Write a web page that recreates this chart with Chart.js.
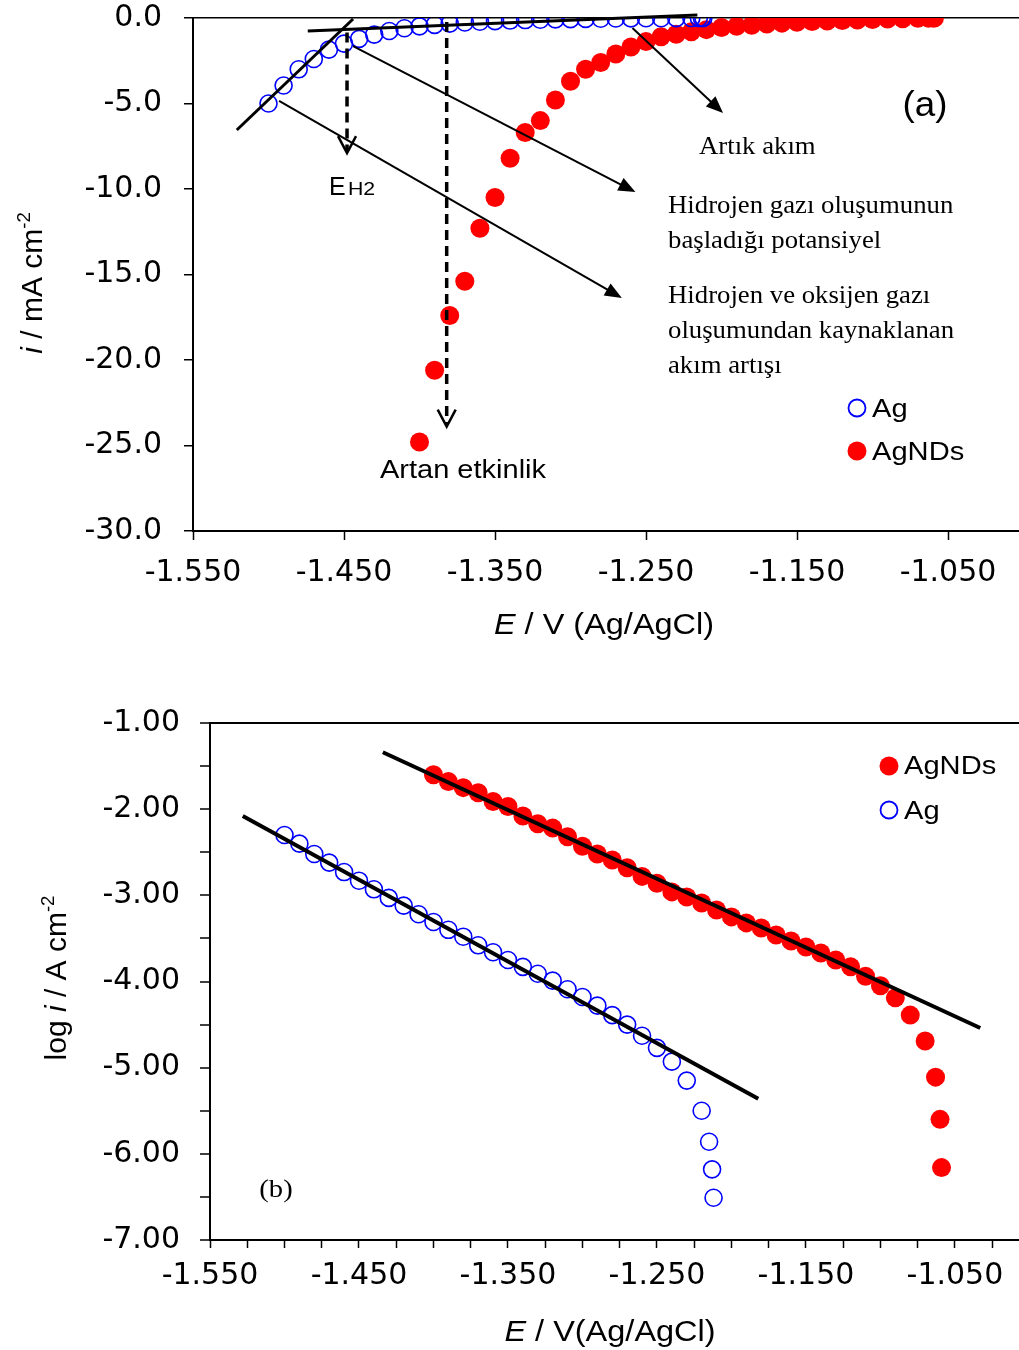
<!DOCTYPE html>
<html>
<head>
<meta charset="utf-8">
<script src="https://cdn.jsdelivr.net/npm/chart.js@4.4.1/dist/chart.umd.min.js"></script>
<style>
  html, body { margin: 0; padding: 0; background: #fff; overflow: hidden; }
  canvas { display: block; }
</style>
</head>
<body>
<canvas id="chartA" width="1019" height="650"></canvas>
<canvas id="chartB" width="1019" height="700"></canvas>
<script>
// potentials (V vs Ag/AgCl)
const E_AG = [-1.500, -1.490, -1.480, -1.470, -1.460, -1.450, -1.440, -1.430, -1.420, -1.410,
              -1.400, -1.390, -1.380, -1.370, -1.360, -1.350, -1.340, -1.330, -1.320, -1.310,
              -1.300, -1.290, -1.280, -1.270, -1.260, -1.250, -1.240, -1.230, -1.220, -1.215,
              -1.213, -1.212];
const E_AGNDS = [-1.400, -1.390, -1.380, -1.370, -1.360, -1.350, -1.340, -1.330, -1.320, -1.310,
                 -1.300, -1.290, -1.280, -1.270, -1.260, -1.250, -1.240, -1.230, -1.220, -1.210,
                 -1.200, -1.190, -1.180, -1.170, -1.160, -1.150, -1.140, -1.130, -1.120, -1.110,
                 -1.100, -1.090, -1.080, -1.070, -1.063, -1.060, -1.059];

// (a) current density, mA cm-2
const I_AG = [-5.0, -3.95, -3.0, -2.4, -1.85, -1.5, -1.22, -0.97, -0.76, -0.60,
              -0.49, -0.40, -0.33, -0.26, -0.22, -0.18, -0.15, -0.12, -0.10, -0.08,
              -0.066, -0.052, -0.041, -0.032, -0.023, -0.017, -0.012, -0.007, -0.003, -0.0014,
              -0.0007, -0.0003];
const I_AGNDS = [-24.8, -20.6, -17.4, -15.4, -12.3, -10.5, -8.2, -6.7, -6.0, -4.8,
                 -3.7, -3.0, -2.6, -2.1, -1.7, -1.38, -1.10, -0.95, -0.81, -0.68,
                 -0.56, -0.48, -0.42, -0.35, -0.30, -0.25, -0.21, -0.18, -0.15, -0.115,
                 -0.089, -0.065, -0.041, -0.020, -0.008, -0.0025, -0.0007];

// (b) log i, A cm-2
const LOGI_AG = [-2.30, -2.40, -2.52, -2.62, -2.73, -2.83, -2.93, -3.03, -3.12, -3.22,
                 -3.31, -3.40, -3.48, -3.58, -3.66, -3.75, -3.83, -3.91, -3.99, -4.09,
                 -4.18, -4.28, -4.39, -4.50, -4.63, -4.77, -4.93, -5.15, -5.50, -5.86,
                 -6.18, -6.51];
const LOGI_AGNDS = [-1.60, -1.68, -1.75, -1.81, -1.91, -1.97, -2.08, -2.17, -2.22, -2.32,
                    -2.43, -2.52, -2.59, -2.68, -2.78, -2.86, -2.96, -3.02, -3.09, -3.17,
                    -3.25, -3.32, -3.38, -3.46, -3.53, -3.60, -3.67, -3.75, -3.83, -3.94,
                    -4.05, -4.19, -4.39, -4.69, -5.11, -5.60, -6.16];

// tangent lines in (a), Tafel fits in (b)
const TAN1_E = [-1.521, -1.444], TAN1_I = [-6.55, -0.06];
const TAN2_E = [-1.474, -1.216], TAN2_I = [-0.76, 0.18];
const FIT_AG_E = [-1.528, -1.182], FIT_AG_LOG = [-2.08, -5.36];
const FIT_AGNDS_E = [-1.434, -1.033], FIT_AGNDS_LOG = [-1.34, -4.54];

// tick labels
const X_MAJOR = [-1.55, -1.45, -1.35, -1.25, -1.15, -1.05];
const Y_TICKS_A = [0, -5, -10, -15, -20, -25, -30];
const Y_MAJOR_B = [-1, -2, -3, -4, -5, -6, -7];

// annotation arrows in (a): [E1, i1, E2, i2]
const ARROWS_A = [
    [-1.444, -1.64, -1.257, -10.18],
    [-1.493, -4.85, -1.266, -16.37],
    [-1.259, -0.58, -1.199, -5.56]
];
// dashed arrows: [E, iStart, iEnd]
const DASHED_A = [
    [-1.448, -0.85, -7.9],
    [-1.382, -0.23, -23.9]
];

const BLUE = '#0000ff';
const RED = '#ff0000';
const SANS = '"Liberation Sans", Arial, sans-serif';
const SERIF = '"Liberation Serif", "Times New Roman", serif';

const pts = (xs, ys) => xs.map((x, i) => ({ x: x, y: ys[i] }));
const isMajor = (list, v) => list.some(m => Math.abs(m - v) < 1e-6);

// minor ticks for (b)
const xTicksB = [];
for (let k = 0; k <= 21; k++) xTicksB.push(-1.55 + k * 0.025);
const yTicksB = [];
for (let k = 0; k <= 12; k++) yTicksB.push(-7 + k * 0.5);

function text(ctx, s, x, y, font, align, sx) {
    ctx.save();
    ctx.font = font;
    ctx.textAlign = align || 'left';
    ctx.textBaseline = 'alphabetic';
    ctx.fillStyle = '#000';
    ctx.translate(x, y);
    ctx.scale(sx || 1, 1);
    ctx.fillText(s, 0, 0);
    ctx.restore();
}

// mixed italic / superscript titles
function rich(ctx, parts, cx, cy, size, sx, rotate) {
    ctx.save();
    ctx.fillStyle = '#000';
    ctx.textBaseline = 'alphabetic';
    ctx.textAlign = 'left';
    const fontOf = p => (p.it ? 'italic ' : '') + (p.sup ? size * 0.62 : size) + 'px ' + SANS;
    let total = 0;
    const widths = parts.map(p => { ctx.font = fontOf(p); const w = ctx.measureText(p.t).width * sx; total += w; return w; });
    ctx.translate(cx, cy);
    if (rotate) ctx.rotate(-Math.PI / 2);
    let cur = -total / 2;
    parts.forEach((p, i) => {
        ctx.save();
        ctx.font = fontOf(p);
        ctx.translate(cur, p.sup ? -size * 0.4 : 0);
        ctx.scale(sx, 1);
        ctx.fillText(p.t, 0, 0);
        ctx.restore();
        cur += widths[i];
    });
    ctx.restore();
}

function arrow(ctx, x1, y1, x2, y2) {
    const a = Math.atan2(y2 - y1, x2 - x1), len = 17, hw = 7;
    ctx.beginPath();
    ctx.moveTo(x1, y1);
    ctx.lineTo(x2 - Math.cos(a) * len * 0.8, y2 - Math.sin(a) * len * 0.8);
    ctx.lineWidth = 2;
    ctx.strokeStyle = '#000';
    ctx.stroke();
    ctx.beginPath();
    ctx.moveTo(x2, y2);
    ctx.lineTo(x2 - Math.cos(a) * len + Math.sin(a) * hw, y2 - Math.sin(a) * len - Math.cos(a) * hw);
    ctx.lineTo(x2 - Math.cos(a) * len - Math.sin(a) * hw, y2 - Math.sin(a) * len + Math.cos(a) * hw);
    ctx.closePath();
    ctx.fillStyle = '#000';
    ctx.fill();
}

function dashedArrow(ctx, x, y1, y2) {
    ctx.save();
    ctx.strokeStyle = '#000';
    ctx.lineWidth = 3.5;
    ctx.setLineDash([10, 6]);
    ctx.beginPath();
    ctx.moveTo(x, y1);
    ctx.lineTo(x, y2 - 2);
    ctx.stroke();
    ctx.setLineDash([]);
    ctx.lineWidth = 2.5;
    ctx.beginPath();
    ctx.moveTo(x - 9, y2 - 17);
    ctx.lineTo(x, y2);
    ctx.lineTo(x + 9, y2 - 17);
    ctx.stroke();
    ctx.restore();
}

function legendItem(ctx, x, y, filled, label, baseline) {
    ctx.save();
    ctx.beginPath();
    if (filled) {
        ctx.arc(x, y, 9.5, 0, Math.PI * 2);
        ctx.fillStyle = RED;
        ctx.fill();
    } else {
        ctx.arc(x, y, 8.5, 0, Math.PI * 2);
        ctx.strokeStyle = BLUE;
        ctx.lineWidth = 1.8;
        ctx.stroke();
    }
    ctx.restore();
    text(ctx, label, x + 15, baseline, '26px ' + SANS, 'left', 1.12);
}

const annotA = {
    id: 'annotA',
    afterDatasetsDraw(chart) {
        const ctx = chart.ctx, sx = chart.scales.x, sy = chart.scales.y;
        const px = v => sx.getPixelForValue(v), py = v => sy.getPixelForValue(v);
        ctx.save();
        ARROWS_A.forEach(a => arrow(ctx, px(a[0]), py(a[1]), px(a[2]), py(a[3])));
        DASHED_A.forEach(d => dashedArrow(ctx, px(d[0]), py(d[1]), py(d[2])));

        text(ctx, '(a)', 925, 116, '35px ' + SANS, 'center', 1.05);
        const tf = '25px ' + SERIF;
        text(ctx, 'Artık akım', 699, 154, tf, 'left', 1.07);
        text(ctx, 'Hidrojen gazı oluşumunun', 668, 213, tf, 'left', 1.07);
        text(ctx, 'başladığı potansiyel', 668, 248, tf, 'left', 1.07);
        text(ctx, 'Hidrojen ve oksijen gazı', 668, 303, tf, 'left', 1.07);
        text(ctx, 'oluşumundan kaynaklanan', 668, 338, tf, 'left', 1.07);
        text(ctx, 'akım artışı', 668, 373, tf, 'left', 1.07);
        text(ctx, 'E', 329, 195, '25px ' + SANS, 'left', 1.0);
        text(ctx, 'H2', 348, 195, '19px ' + SANS, 'left', 1.12);
        text(ctx, 'Artan etkinlik', 380, 478, '25px ' + SANS, 'left', 1.16);

        legendItem(ctx, 857, 408, false, 'Ag', 417);
        legendItem(ctx, 857, 451, true, 'AgNDs', 460);

        rich(ctx, [{ t: 'i', it: true }, { t: ' / mA cm' }, { t: '-2', sup: true }], 42, 283, 30, 1, true);
        rich(ctx, [{ t: 'E', it: true }, { t: ' / V (Ag/AgCl)' }], 604, 634, 29, 1.12, false);
        ctx.restore();
    }
};

const annotB = {
    id: 'annotB',
    afterDatasetsDraw(chart) {
        const ctx = chart.ctx;
        ctx.save();
        legendItem(ctx, 889, 116, true, 'AgNDs', 124);
        legendItem(ctx, 889, 160, false, 'Ag', 169);
        text(ctx, '(b)', 276, 547, '26px ' + SERIF, 'center', 1.1);
        rich(ctx, [{ t: 'log ' }, { t: 'i', it: true }, { t: ' / A cm' }, { t: '-2', sup: true }], 66, 328, 30, 1, true);
        rich(ctx, [{ t: 'E', it: true }, { t: ' / V(Ag/AgCl)' }], 610, 691, 29, 1.12, false);
        ctx.restore();
    }
};

const tickFont = { family: '"DejaVu Sans", sans-serif', size: 30 };

const lineSet = (xs, ys, w) => ({
    data: pts(xs, ys), showLine: true, pointRadius: 0, borderColor: '#000',
    borderWidth: w, clip: false
});

// keep the plot box where the layout padding puts it
const noPad = s => { s.paddingTop = 0; s.paddingBottom = 0; s.paddingLeft = 0; s.paddingRight = 0; };

// (a) linear sweep
new Chart(document.getElementById('chartA'), {
    type: 'scatter',
    data: {
        datasets: [
            lineSet(TAN1_E, TAN1_I, 3),
            lineSet(TAN2_E, TAN2_I, 3),
            { label: 'Ag', data: pts(E_AG, I_AG), pointRadius: 8.5, pointBorderWidth: 1.6,
              pointBackgroundColor: 'rgba(0,0,0,0)', pointBorderColor: BLUE },
            { label: 'AgNDs', data: pts(E_AGNDS, I_AGNDS), pointRadius: 9.5, pointBorderWidth: 0,
              pointBackgroundColor: RED, pointBorderColor: RED }
        ]
    },
    options: {
        responsive: false,
        animation: false,
        events: [],
        layout: { autoPadding: false, padding: { top: 18, left: 0, right: 0, bottom: 0 } },
        plugins: { legend: { display: false }, tooltip: { enabled: false } },
        scales: {
            x: {
                type: 'linear', min: -1.55, max: -1.003,
                afterBuildTicks: s => { s.ticks = X_MAJOR.map(v => ({ value: v })); },
                afterFit: s => { s.height = 119; noPad(s); },
                ticks: { autoSkip: false, maxRotation: 0, padding: 15, color: '#000', font: tickFont,
                         callback: v => v.toFixed(3) },
                grid: { drawOnChartArea: false, tickLength: 9, tickWidth: 1.5, tickColor: '#000' },
                border: { color: '#000', width: 2 }
            },
            y: {
                type: 'linear', min: -30, max: 0,
                afterBuildTicks: s => { s.ticks = Y_TICKS_A.map(v => ({ value: v })); },
                afterFit: s => { s.width = 193; noPad(s); },
                ticks: { autoSkip: false, padding: 22, color: '#000', font: tickFont,
                         callback: v => v.toFixed(1) },
                grid: { drawOnChartArea: true, lineWidth: 1.5,
                        color: c => (c.tick && c.tick.value === 0) ? '#000' : 'rgba(0,0,0,0)',
                        tickLength: 9, tickWidth: 1.5, tickColor: '#000' },
                border: { color: '#000', width: 2 }
            }
        }
    },
    plugins: [annotA]
});

// (b) Tafel plot
new Chart(document.getElementById('chartB'), {
    type: 'scatter',
    data: {
        datasets: [
            lineSet(FIT_AG_E, FIT_AG_LOG, 4),
            lineSet(FIT_AGNDS_E, FIT_AGNDS_LOG, 4),
            { label: 'AgNDs', data: pts(E_AGNDS, LOGI_AGNDS), pointRadius: 9.5, pointBorderWidth: 0,
              pointBackgroundColor: RED, pointBorderColor: RED },
            { label: 'Ag', data: pts(E_AG, LOGI_AG), pointRadius: 8.5, pointBorderWidth: 1.6,
              pointBackgroundColor: 'rgba(0,0,0,0)', pointBorderColor: BLUE }
        ]
    },
    options: {
        responsive: false,
        animation: false,
        events: [],
        layout: { autoPadding: false, padding: { top: 73, left: 0, right: 0, bottom: 0 } },
        plugins: { legend: { display: false }, tooltip: { enabled: false } },
        scales: {
            x: {
                type: 'linear', min: -1.55, max: -1.007,
                afterBuildTicks: s => { s.ticks = xTicksB.map(v => ({ value: v })); },
                afterFit: s => { s.height = 110; noPad(s); },
                ticks: { autoSkip: false, maxRotation: 0, padding: 10, color: '#000', font: tickFont,
                         callback: v => isMajor(X_MAJOR, v) ? v.toFixed(3) : '' },
                grid: { drawOnChartArea: false, tickLength: 8, tickWidth: 1.5, tickColor: '#000' },
                border: { color: '#000', width: 2 }
            },
            y: {
                type: 'linear', min: -7, max: -1,
                afterBuildTicks: s => { s.ticks = yTicksB.map(v => ({ value: v })); },
                afterFit: s => { s.width = 210; noPad(s); },
                ticks: { autoSkip: false, padding: 20, color: '#000', font: tickFont,
                         callback: v => isMajor(Y_MAJOR_B, v) ? v.toFixed(2) : '' },
                grid: { drawOnChartArea: true, lineWidth: 2,
                        color: c => (c.tick && Math.abs(c.tick.value + 1) < 1e-6) ? '#000' : 'rgba(0,0,0,0)',
                        tickLength: 10, tickWidth: 1.5, tickColor: '#000' },
                border: { color: '#000', width: 2 }
            }
        }
    },
    plugins: [annotB]
});
</script>
</body>
</html>
